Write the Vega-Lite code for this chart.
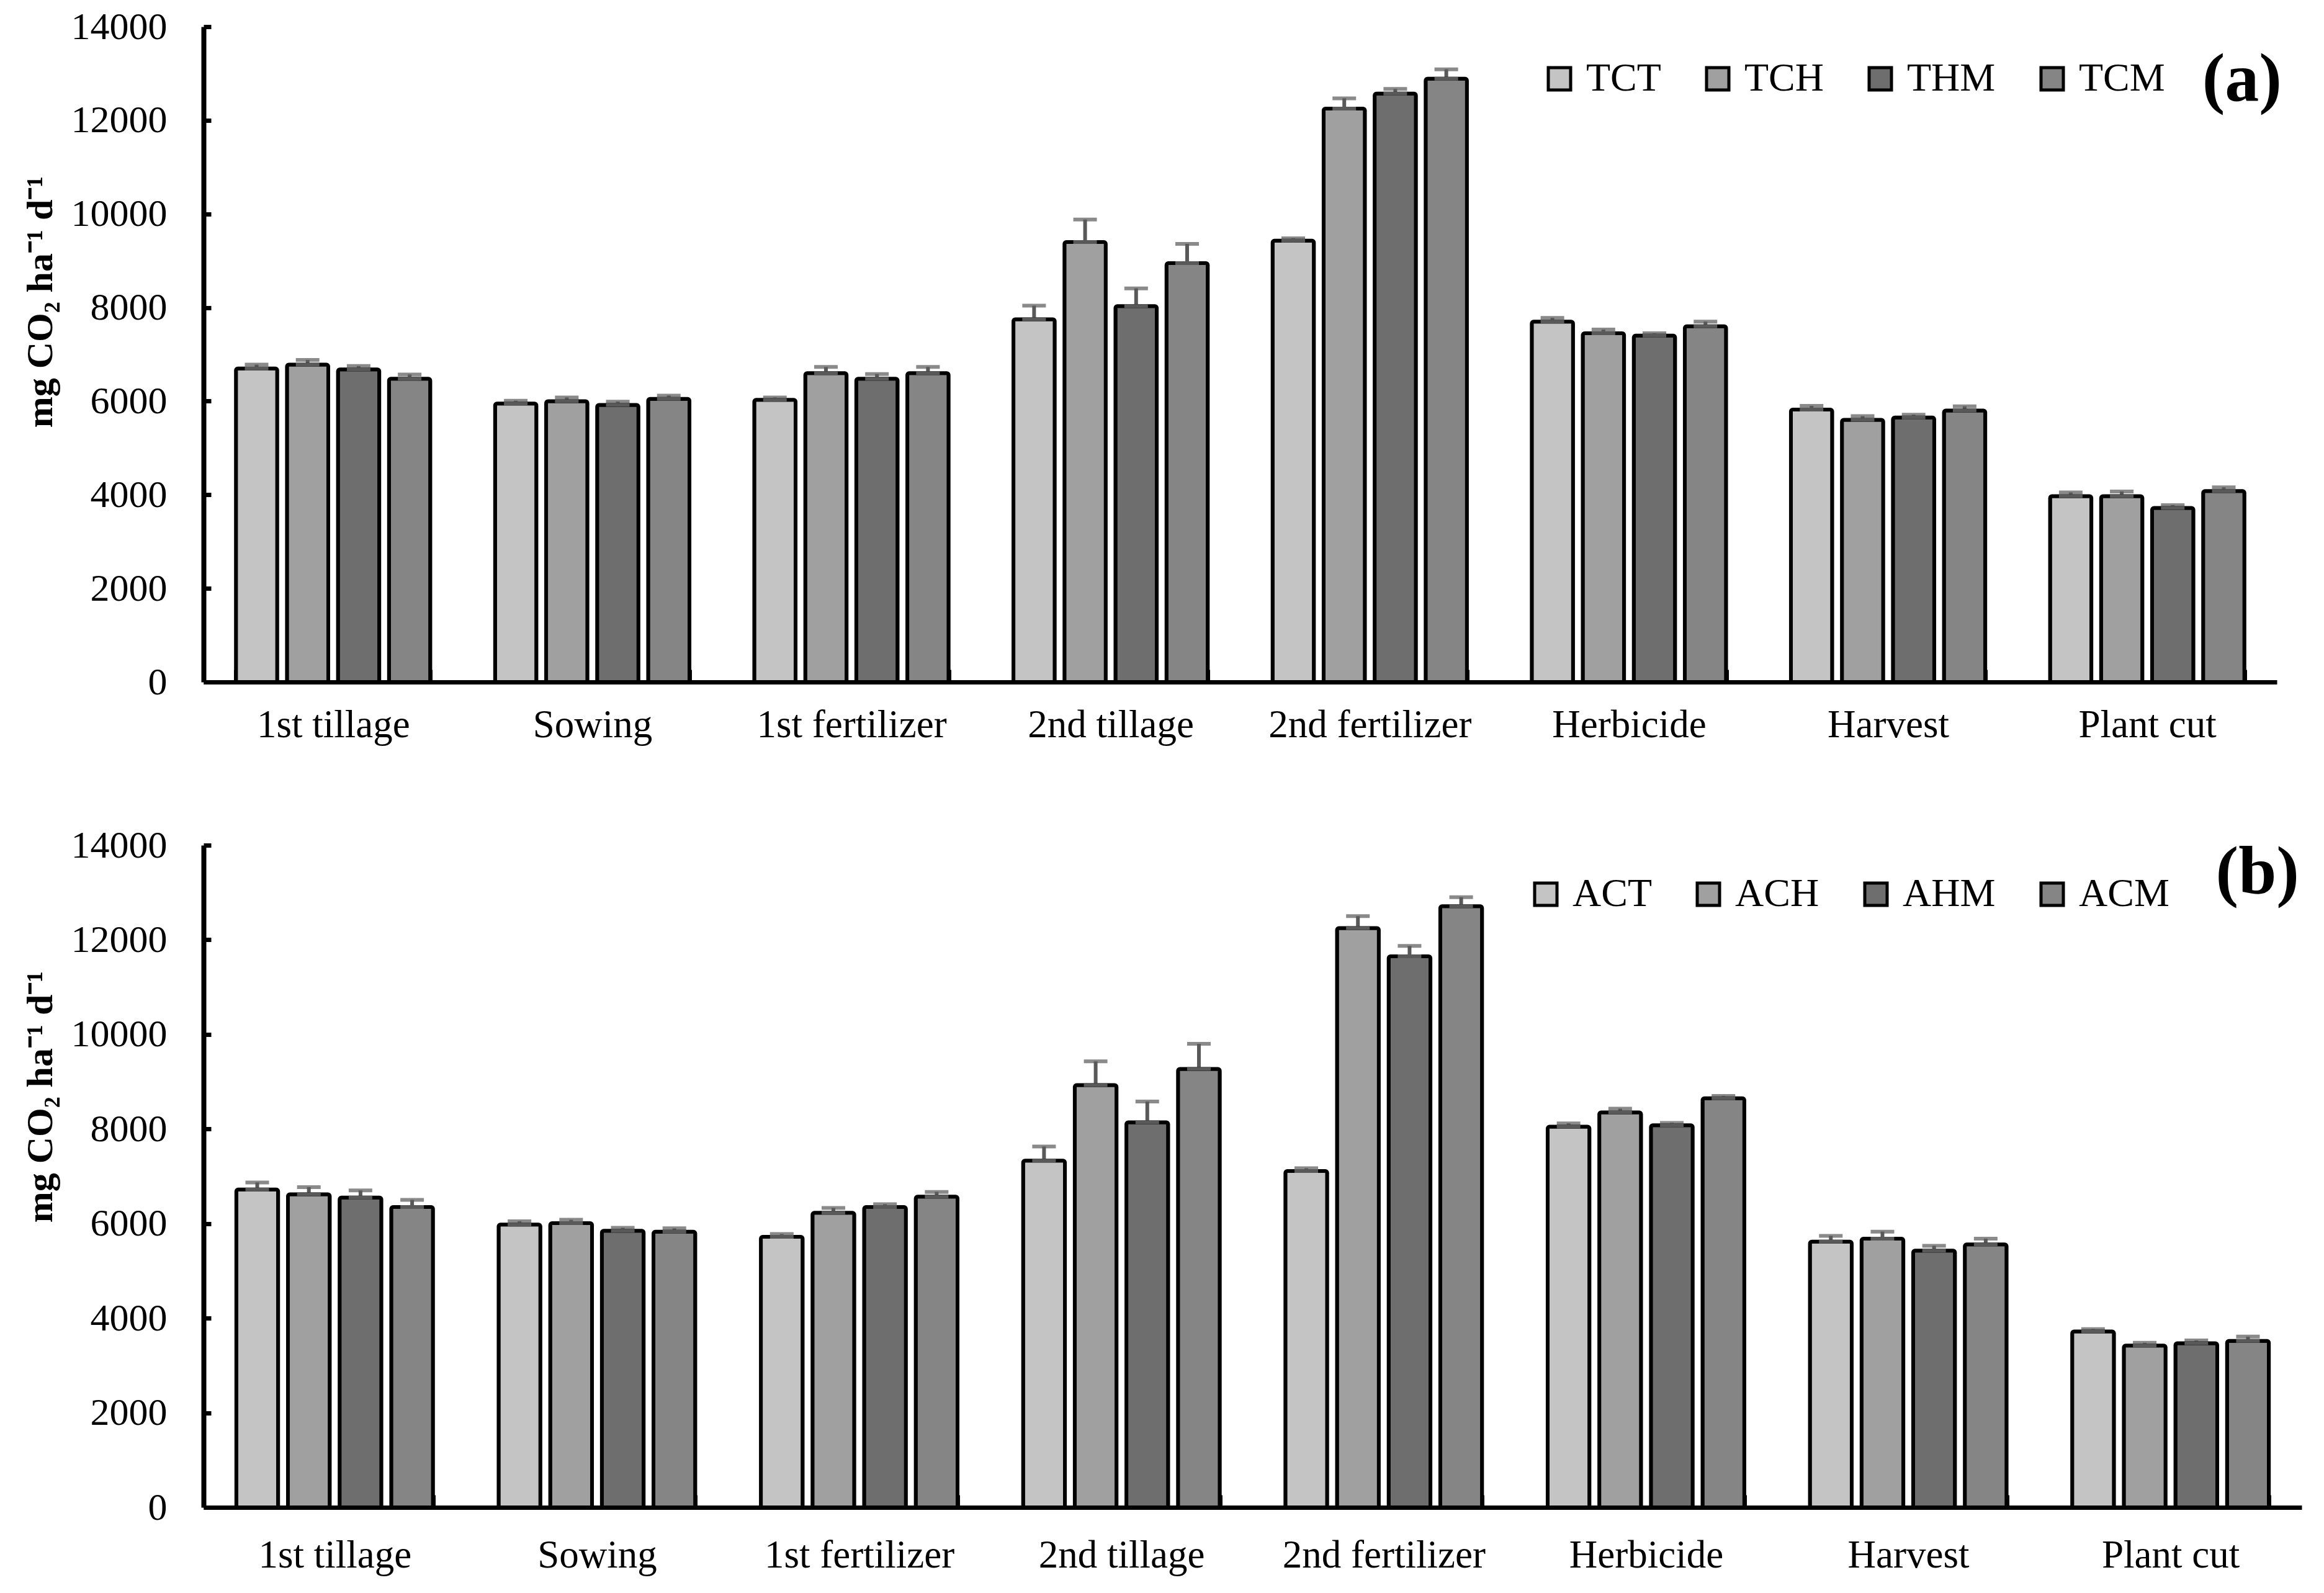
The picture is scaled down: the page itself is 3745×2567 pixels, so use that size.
{
  "$schema": "https://vega.github.io/schema/vega-lite/v6.json",
  "background": "white",
  "padding": {"left": 35, "top": 12, "right": 20, "bottom": 10},
  "config": {
    "font": "Liberation Serif",
    "view": {"stroke": null},
    "concat": {"spacing": 131}
  },
  "datasets": {
    "a": [
      {"stage": "1st tillage", "treatment": "TCT", "value": 6700, "err": 80},
      {"stage": "1st tillage", "treatment": "TCH", "value": 6780, "err": 100},
      {"stage": "1st tillage", "treatment": "THM", "value": 6680, "err": 70},
      {"stage": "1st tillage", "treatment": "TCM", "value": 6480, "err": 90},
      {"stage": "Sowing", "treatment": "TCT", "value": 5950, "err": 60},
      {"stage": "Sowing", "treatment": "TCH", "value": 6000, "err": 80},
      {"stage": "Sowing", "treatment": "THM", "value": 5920, "err": 70},
      {"stage": "Sowing", "treatment": "TCM", "value": 6050, "err": 70},
      {"stage": "1st fertilizer", "treatment": "TCT", "value": 6030, "err": 50},
      {"stage": "1st fertilizer", "treatment": "TCH", "value": 6600, "err": 130},
      {"stage": "1st fertilizer", "treatment": "THM", "value": 6480, "err": 100},
      {"stage": "1st fertilizer", "treatment": "TCM", "value": 6600, "err": 130},
      {"stage": "2nd tillage", "treatment": "TCT", "value": 7750, "err": 290},
      {"stage": "2nd tillage", "treatment": "TCH", "value": 9400, "err": 480},
      {"stage": "2nd tillage", "treatment": "THM", "value": 8030, "err": 380},
      {"stage": "2nd tillage", "treatment": "TCM", "value": 8950, "err": 410},
      {"stage": "2nd fertilizer", "treatment": "TCT", "value": 9430, "err": 50},
      {"stage": "2nd fertilizer", "treatment": "TCH", "value": 12250, "err": 220},
      {"stage": "2nd fertilizer", "treatment": "THM", "value": 12570, "err": 100},
      {"stage": "2nd fertilizer", "treatment": "TCM", "value": 12890, "err": 200},
      {"stage": "Herbicide", "treatment": "TCT", "value": 7700, "err": 80},
      {"stage": "Herbicide", "treatment": "TCH", "value": 7450, "err": 80},
      {"stage": "Herbicide", "treatment": "THM", "value": 7400, "err": 50},
      {"stage": "Herbicide", "treatment": "TCM", "value": 7600, "err": 100},
      {"stage": "Harvest", "treatment": "TCT", "value": 5820, "err": 80},
      {"stage": "Harvest", "treatment": "TCH", "value": 5600, "err": 80},
      {"stage": "Harvest", "treatment": "THM", "value": 5650, "err": 60},
      {"stage": "Harvest", "treatment": "TCM", "value": 5800, "err": 90},
      {"stage": "Plant cut", "treatment": "TCT", "value": 3970, "err": 80},
      {"stage": "Plant cut", "treatment": "TCH", "value": 3970, "err": 100},
      {"stage": "Plant cut", "treatment": "THM", "value": 3720, "err": 60},
      {"stage": "Plant cut", "treatment": "TCM", "value": 4080, "err": 80}
    ],
    "b": [
      {"stage": "1st tillage", "treatment": "ACT", "value": 6720, "err": 150},
      {"stage": "1st tillage", "treatment": "ACH", "value": 6620, "err": 150},
      {"stage": "1st tillage", "treatment": "AHM", "value": 6550, "err": 150},
      {"stage": "1st tillage", "treatment": "ACM", "value": 6350, "err": 150},
      {"stage": "Sowing", "treatment": "ACT", "value": 5980, "err": 70},
      {"stage": "Sowing", "treatment": "ACH", "value": 6010, "err": 70},
      {"stage": "Sowing", "treatment": "AHM", "value": 5850, "err": 60},
      {"stage": "Sowing", "treatment": "ACM", "value": 5830, "err": 70},
      {"stage": "1st fertilizer", "treatment": "ACT", "value": 5720, "err": 60},
      {"stage": "1st fertilizer", "treatment": "ACH", "value": 6230, "err": 100},
      {"stage": "1st fertilizer", "treatment": "AHM", "value": 6350, "err": 60},
      {"stage": "1st fertilizer", "treatment": "ACM", "value": 6570, "err": 100},
      {"stage": "2nd tillage", "treatment": "ACT", "value": 7330, "err": 300},
      {"stage": "2nd tillage", "treatment": "ACH", "value": 8930, "err": 500},
      {"stage": "2nd tillage", "treatment": "AHM", "value": 8140, "err": 440},
      {"stage": "2nd tillage", "treatment": "ACM", "value": 9270, "err": 530},
      {"stage": "2nd fertilizer", "treatment": "ACT", "value": 7110, "err": 60},
      {"stage": "2nd fertilizer", "treatment": "ACH", "value": 12250, "err": 250},
      {"stage": "2nd fertilizer", "treatment": "AHM", "value": 11650, "err": 220},
      {"stage": "2nd fertilizer", "treatment": "ACM", "value": 12710, "err": 190},
      {"stage": "Herbicide", "treatment": "ACT", "value": 8050, "err": 70},
      {"stage": "Herbicide", "treatment": "ACH", "value": 8350, "err": 80},
      {"stage": "Herbicide", "treatment": "AHM", "value": 8080, "err": 50},
      {"stage": "Herbicide", "treatment": "ACM", "value": 8650, "err": 50},
      {"stage": "Harvest", "treatment": "ACT", "value": 5620, "err": 120},
      {"stage": "Harvest", "treatment": "ACH", "value": 5680, "err": 150},
      {"stage": "Harvest", "treatment": "AHM", "value": 5430, "err": 100},
      {"stage": "Harvest", "treatment": "ACM", "value": 5560, "err": 120},
      {"stage": "Plant cut", "treatment": "ACT", "value": 3720, "err": 50},
      {"stage": "Plant cut", "treatment": "ACH", "value": 3420, "err": 60},
      {"stage": "Plant cut", "treatment": "AHM", "value": 3470, "err": 60},
      {"stage": "Plant cut", "treatment": "ACM", "value": 3520, "err": 90}
    ],
    "panels": [
      {"label": "(a)", "panel": "a", "ypos": 12866},
      {"label": "(b)", "panel": "b", "ypos": 13412}
    ]
  },
  "resolve": {
    "scale": {"x": "independent", "y": "independent", "xOffset": "independent", "fill": "independent"},
    "legend": {"fill": "independent"}
  },
  "vconcat": [
    {
      "width": 3341,
      "height": 1056,
      "layer": [
        {
          "data": {"name": "a"},
          "mark": {"type": "errorbar", "color": "#595959", "thickness": 6, "ticks": {"size": 38, "thickness": 6, "color": "#595959"}},
          "encoding": {
            "x": {"field": "stage", "type": "nominal", "sort": ["1st tillage", "Sowing", "1st fertilizer", "2nd tillage", "2nd fertilizer", "Herbicide", "Harvest", "Plant cut"], "scale": {"paddingInner": 0.25, "paddingOuter": 0.125},
              "axis": {"title": null, "labelAngle": 0, "labelFontSize": 63, "labelLimit": 0, "labelColor": "black", "labelPadding": 58, "domainColor": "black", "domainWidth": 7, "tickColor": "black", "tickWidth": 7, "tickSize": -20, "tickBand": "extent", "labelBaseline": "top"}},
            "xOffset": {"field": "treatment", "type": "nominal", "sort": ["TCT", "TCH", "THM", "TCM"], "scale": {"paddingInner": 0.19}},
            "y": {"field": "value", "type": "quantitative", "scale": {"domain": [0, 14000], "nice": false},
              "axis": {"title": "mg CO₂ ha⁻¹ d⁻¹", "titleFontSize": 60, "titleFontWeight": "bold", "titleColor": "black", "titleY": 443, "titleAlign": "center", "titlePadding": 32, "values": [0, 2000, 4000, 6000, 8000, 10000, 12000, 14000], "format": "d", "labelFontSize": 62, "labelColor": "black", "labelPadding": 71, "domainColor": "black", "domainWidth": 8, "tickColor": "black", "tickWidth": 7, "tickSize": -12, "grid": false}},
            "yError": {"field": "err"}
          }
        },
        {
          "data": {"name": "a"},
          "mark": {"type": "bar", "stroke": "black", "strokeWidth": 6, "cornerRadius": 3},
          "encoding": {
            "x": {"field": "stage", "type": "nominal", "sort": ["1st tillage", "Sowing", "1st fertilizer", "2nd tillage", "2nd fertilizer", "Herbicide", "Harvest", "Plant cut"]},
            "xOffset": {"field": "treatment", "type": "nominal", "sort": ["TCT", "TCH", "THM", "TCM"]},
            "y": {"field": "value", "type": "quantitative"},
            "fill": {
              "field": "treatment", "type": "nominal",
              "scale": {"domain": ["TCT", "TCH", "THM", "TCM"], "range": ["#c4c4c4", "#a0a0a0", "#6e6e6e", "#858585"]},
              "legend": {"title": null, "orient": "none", "legendX": 2153, "legendY": 52, "direction": "horizontal", "symbolType": "square", "symbolSize": 1296, "symbolStrokeColor": "black", "symbolStrokeWidth": 5, "labelFontSize": 64, "labelColor": "black", "labelOffset": 11, "columnPadding": 59, "padding": 0, "labelFont": "Liberation Serif"}
            }
          }
        },
        {
          "data": {"name": "a"},
          "mark": {"type": "tick", "color": "#595959", "size": 38, "thickness": 6, "opacity": 1},
          "encoding": {
            "x": {"field": "stage", "type": "nominal", "sort": ["1st tillage", "Sowing", "1st fertilizer", "2nd tillage", "2nd fertilizer", "Herbicide", "Harvest", "Plant cut"]},
            "xOffset": {"field": "treatment", "type": "nominal", "sort": ["TCT", "TCH", "THM", "TCM"]},
            "y": {"field": "value", "type": "quantitative"}
          }
        },
        {
          "data": {"name": "panels"},
          "transform": [{"filter": "datum.panel == 'a'"}],
          "mark": {"type": "text", "align": "right", "baseline": "middle", "dx": 8, "fontSize": 110, "fontWeight": "bold", "font": "Liberation Serif", "fill": "black"},
          "encoding": {
            "x": {"value": "width"},
            "y": {"field": "ypos", "type": "quantitative"},
            "text": {"field": "label", "type": "nominal"}
          }
        }
      ]
    },
    {
      "width": 3381,
      "height": 1067,
      "layer": [
        {
          "data": {"name": "b"},
          "mark": {"type": "errorbar", "color": "#595959", "thickness": 6, "ticks": {"size": 38, "thickness": 6, "color": "#595959"}},
          "encoding": {
            "x": {"field": "stage", "type": "nominal", "sort": ["1st tillage", "Sowing", "1st fertilizer", "2nd tillage", "2nd fertilizer", "Herbicide", "Harvest", "Plant cut"], "scale": {"paddingInner": 0.25, "paddingOuter": 0.125},
              "axis": {"title": null, "labelAngle": 0, "labelFontSize": 63, "labelLimit": 0, "labelColor": "black", "labelPadding": 66, "domainColor": "black", "domainWidth": 7, "tickColor": "black", "tickWidth": 7, "tickSize": -20, "tickBand": "extent", "labelBaseline": "top"}},
            "xOffset": {"field": "treatment", "type": "nominal", "sort": ["ACT", "ACH", "AHM", "ACM"], "scale": {"paddingInner": 0.19}},
            "y": {"field": "value", "type": "quantitative", "scale": {"domain": [0, 14000], "nice": false},
              "axis": {"title": "mg CO₂ ha⁻¹ d⁻¹", "titleFontSize": 60, "titleFontWeight": "bold", "titleColor": "black", "titleY": 405, "titleAlign": "center", "titlePadding": 32, "values": [0, 2000, 4000, 6000, 8000, 10000, 12000, 14000], "format": "d", "labelFontSize": 62, "labelColor": "black", "labelPadding": 71, "domainColor": "black", "domainWidth": 8, "tickColor": "black", "tickWidth": 7, "tickSize": -12, "grid": false}},
            "yError": {"field": "err"}
          }
        },
        {
          "data": {"name": "b"},
          "mark": {"type": "bar", "stroke": "black", "strokeWidth": 6, "cornerRadius": 3},
          "encoding": {
            "x": {"field": "stage", "type": "nominal", "sort": ["1st tillage", "Sowing", "1st fertilizer", "2nd tillage", "2nd fertilizer", "Herbicide", "Harvest", "Plant cut"]},
            "xOffset": {"field": "treatment", "type": "nominal", "sort": ["ACT", "ACH", "AHM", "ACM"]},
            "y": {"field": "value", "type": "quantitative"},
            "fill": {
              "field": "treatment", "type": "nominal",
              "scale": {"domain": ["ACT", "ACH", "AHM", "ACM"], "range": ["#c4c4c4", "#a0a0a0", "#6e6e6e", "#858585"]},
              "legend": {"title": null, "orient": "none", "legendX": 2131, "legendY": 47, "direction": "horizontal", "symbolType": "square", "symbolSize": 1296, "symbolStrokeColor": "black", "symbolStrokeWidth": 5, "labelFontSize": 64, "labelColor": "black", "labelOffset": 11, "columnPadding": 59, "padding": 0, "labelFont": "Liberation Serif"}
            }
          }
        },
        {
          "data": {"name": "b"},
          "mark": {"type": "tick", "color": "#595959", "size": 38, "thickness": 6, "opacity": 1},
          "encoding": {
            "x": {"field": "stage", "type": "nominal", "sort": ["1st tillage", "Sowing", "1st fertilizer", "2nd tillage", "2nd fertilizer", "Herbicide", "Harvest", "Plant cut"]},
            "xOffset": {"field": "treatment", "type": "nominal", "sort": ["ACT", "ACH", "AHM", "ACM"]},
            "y": {"field": "value", "type": "quantitative"}
          }
        },
        {
          "data": {"name": "panels"},
          "transform": [{"filter": "datum.panel == 'b'"}],
          "mark": {"type": "text", "align": "right", "baseline": "middle", "dx": -4, "fontSize": 110, "fontWeight": "bold", "font": "Liberation Serif", "fill": "black"},
          "encoding": {
            "x": {"value": "width"},
            "y": {"field": "ypos", "type": "quantitative"},
            "text": {"field": "label", "type": "nominal"}
          }
        }
      ]
    }
  ]
}
